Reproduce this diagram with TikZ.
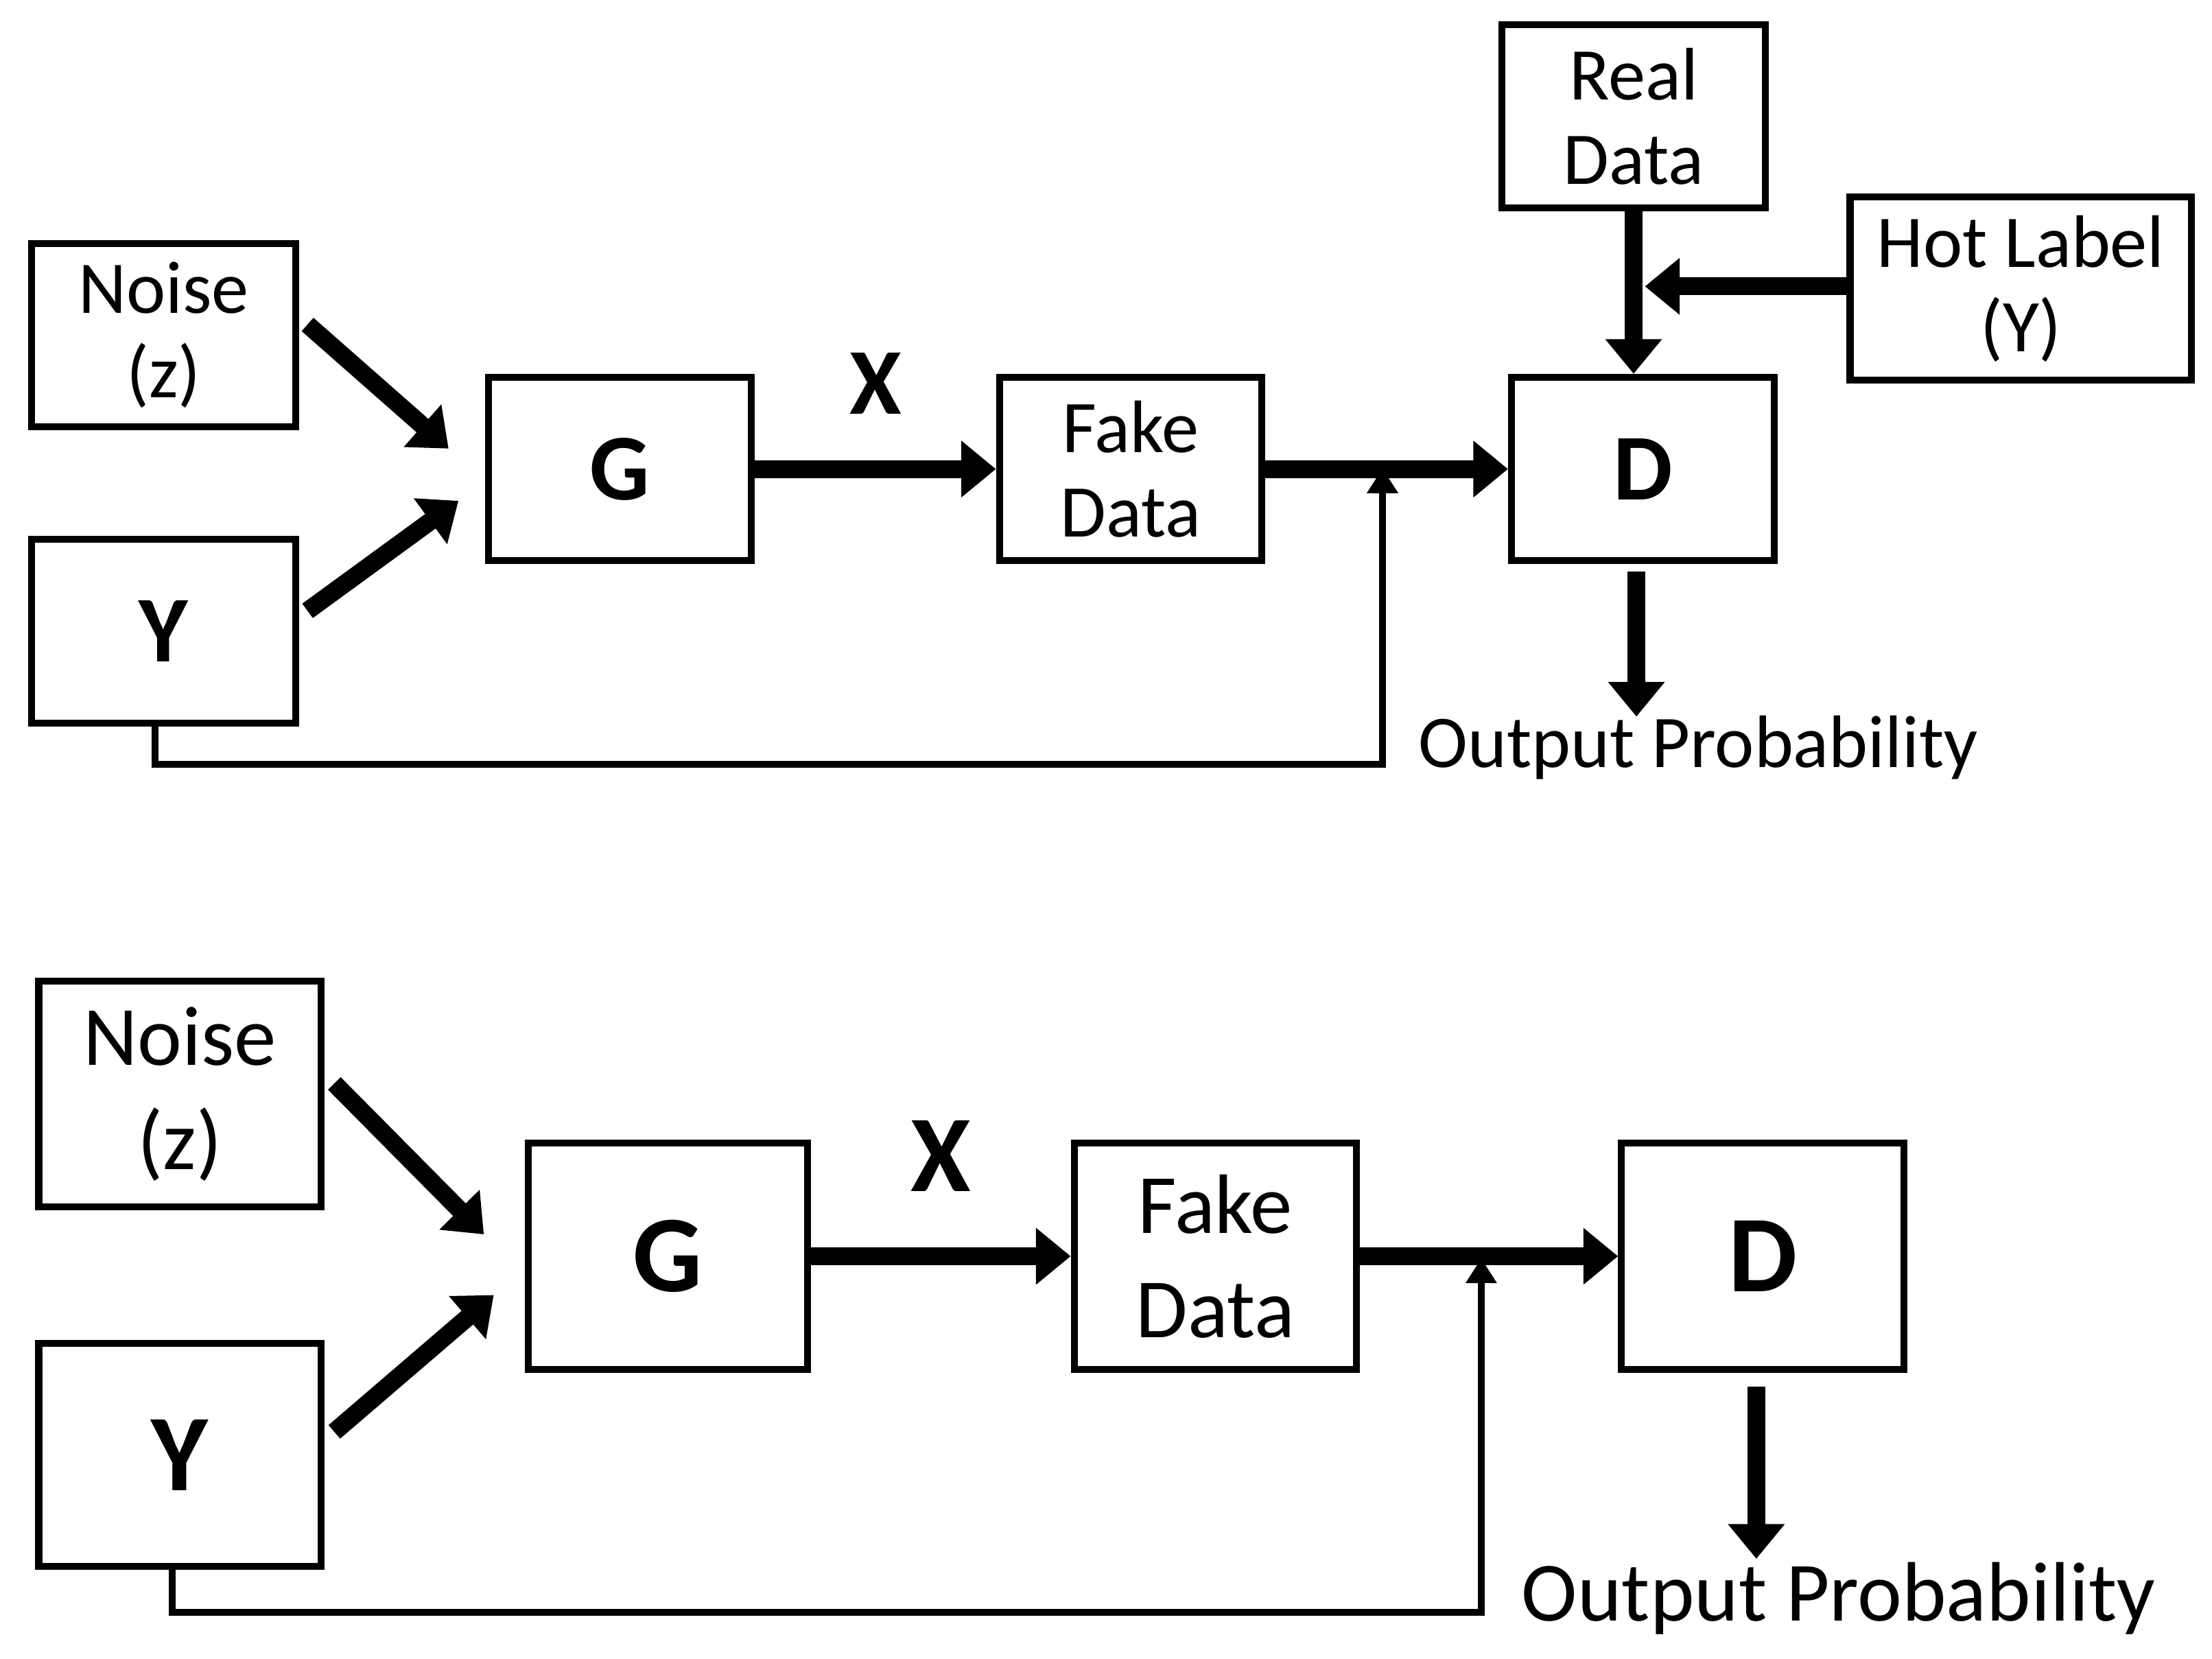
\documentclass[tikz,border=0pt]{standalone}
\usepackage{fontspec}
\setmainfont{Carlito}
\usetikzlibrary{arrows.meta}
\begin{document}
\begin{tikzpicture}[x=0.01cm,y=-0.01cm,
 box/.style={draw,line width=1.4pt,anchor=north west,inner sep=0pt,align=center},
 thick arr/.style={line width=3.6pt,-{Triangle[length=7pt,width=11pt]}},
 thin arr/.style={line width=1.4pt,-{Triangle[length=5pt,width=6pt]}},
 t1/.style={font=\fontsize{15}{17}\selectfont},
 t2/.style={font=\fontsize{17}{21}\selectfont},
 b1/.style={font=\fontsize{19}{21}\selectfont\bfseries},
 b2/.style={font=\fontsize{22}{24}\selectfont\bfseries}]
\useasboundingbox (0,0) rectangle (1568,1176);
% top
\node[box,t1,minimum width=1.87cm,minimum height=1.3cm] (n1) at (20,170) {Noise\\(z)};
\node[box,b1,minimum width=1.87cm,minimum height=1.3cm] (y1) at (20,380) {Y};
\node[box,b1,minimum width=1.86cm,minimum height=1.3cm] (g1) at (344,265) {G};
\node[box,t1,minimum width=1.86cm,minimum height=1.3cm] (f1) at (706,265) {Fake\\Data};
\node[box,b1,minimum width=1.86cm,minimum height=1.3cm] (d1) at (1069,265) {D};
\node[box,t1,minimum width=1.87cm,minimum height=1.3cm] (r1) at (1062,15) {Real\\Data};
\node[box,t1,minimum width=2.42cm,minimum height=1.3cm] (h1) at (1309,137) {Hot Label\\(Y)};
\coordinate (a1) at (218,230); \coordinate (a2) at (318,318);
\draw[thick arr] (a1) -- (a2);
\coordinate (b1) at (218,433); \coordinate (b2) at (325,355);
\draw[thick arr] (b1) -- (b2);
\draw[thick arr] (g1.east) -- node[above=6pt,b1]{X} (f1.west);
\draw[thick arr] (f1.east) -- (d1.west);
\draw[thick arr] (r1.south) -- (r1.south|-d1.north);
\coordinate (hh) at (1166,203);
\draw[thick arr] (h1.west|-hh) -- (hh);
\coordinate (o1) at (1160,508);
\draw[thick arr] (1160,405) -- (o1);
\node[t1,anchor=west,inner sep=0pt] (op1) at (1005,530) {Output Probability};
\coordinate (fb1) at (980,332);
\draw[thin arr] (y1.south-|110,0) -- (110,542) -- (980,542) -- (fb1);
% bottom
\node[box,t2,minimum width=2cm,minimum height=1.6cm] (n2) at (25,693) {Noise\\(z)};
\node[box,b2,minimum width=2cm,minimum height=1.58cm] (y2) at (25,950) {Y};
\node[box,b2,minimum width=1.98cm,minimum height=1.6cm] (g2) at (372,808) {G};
\node[box,t2,minimum width=2cm,minimum height=1.6cm] (f2) at (759,808) {Fake\\Data};
\node[box,b2,minimum width=2cm,minimum height=1.6cm] (d2) at (1147,808) {D};
\coordinate (c1) at (237,768); \coordinate (c2) at (343,875);
\draw[thick arr] (c1) -- (c2);
\coordinate (e1) at (237,1015); \coordinate (e2) at (350,918);
\draw[thick arr] (e1) -- (e2);
\draw[thick arr] (g2.east) -- node[above=8pt,b2]{X} (f2.west);
\draw[thick arr] (f2.east) -- (d2.west);
\coordinate (o2) at (1245,1105);
\draw[thick arr] (1245,983) -- (o2);
\node[t2,anchor=west,inner sep=0pt] (op2) at (1078,1133) {Output Probability};
\coordinate (fb2) at (1050,892);
\draw[thin arr] (y2.south-|122,0) -- (122,1143) -- (1050,1143) -- (fb2);
\end{tikzpicture}
\end{document}
